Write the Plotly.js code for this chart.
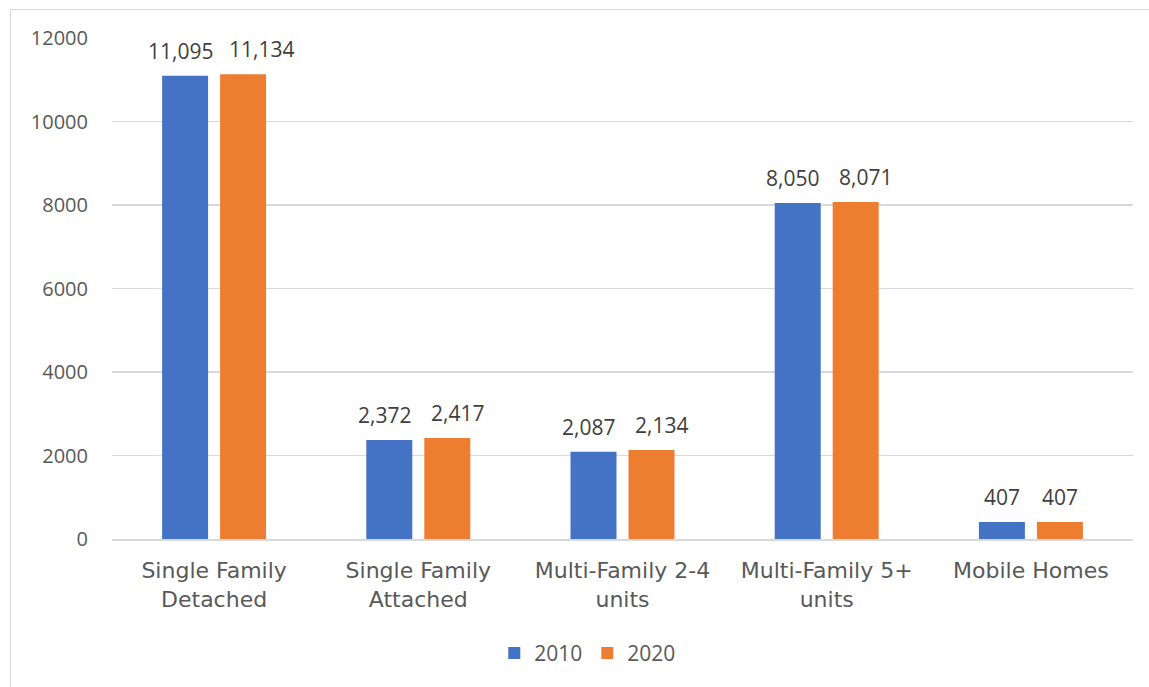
<!DOCTYPE html>
<html>
<head>
<meta charset="utf-8">
<script src="https://cdn.plot.ly/plotly-3.0.1.min.js"></script>
<style>
  html, body { margin: 0; padding: 0; background: #fff; }
  #plot { width: 1149px; height: 687px; position: absolute; left: 0; top: 0; }
  #frame { position: absolute; left: 10px; top: 9px; width: 1200px; height: 700px;
           border-left: 1px solid #d9d9d9; border-top: 1px solid #d9d9d9; pointer-events: none; }
</style>
</head>
<body>
<div id="plot"></div>
<div id="frame"></div>
<script>
// --- Data ---
const categories = ['Single Family<br>Detached', 'Single Family<br>Attached', 'Multi-Family 2-4<br>units', 'Multi-Family 5+<br>units', 'Mobile Homes'];
const years = ['2010', '2020'];
const units2010 = [11095, 2372, 2087, 8050, 407];
const units2020 = [11134, 2417, 2134, 8071, 407];
const colors = ['#4472C4', '#ED7D31'];

const fmt = v => v.toLocaleString('en-US');
const labelFont = { family: 'Open Sans, Liberation Sans, sans-serif', size: 21, color: '#404040' };
const tickFont = { family: 'Open Sans, Liberation Sans, sans-serif', size: 20, color: '#595959' };

const traces = [units2010, units2020].map((vals, i) => ({
  type: 'bar', name: years[i], x: categories, y: vals,
  marker: { color: colors[i] }, hoverinfo: 'x+y+name'
}));

// value labels above each bar; wider labels get pushed apart so they don't collide
const annotations = [];
[units2010, units2020].forEach((vals, i) => {
  vals.forEach((v, j) => {
    const s = fmt(v);
    const extra = s.length > 3 ? (i === 0 ? 5 : 10 + (s.length > 5 ? 8 : 0)) : 0;
    annotations.push({
      x: categories[j], y: v, xref: 'x', yref: 'y', text: s, showarrow: false,
      xshift: i === 0 ? -29 - extra : 29 + extra, yshift: 25, yanchor: 'middle', xanchor: 'center',
      font: labelFont
    });
  });
});

const layout = {
  width: 1149, height: 687,
  margin: { l: 112, r: 16, t: 38, b: 148 },
  paper_bgcolor: '#fff', plot_bgcolor: '#fff',
  barmode: 'group', bargap: 0.432, bargroupgap: 0.207,
  xaxis: {
    showgrid: false, showline: true, linecolor: '#d9d9d9', linewidth: 1.5,
    ticks: '', ticklabelstandoff: 11,
    tickfont: { family: 'DejaVu Sans, sans-serif', size: 22, color: '#595959' }
  },
  yaxis: {
    range: [0, 12000], tickvals: [0, 2000, 4000, 6000, 8000, 10000, 12000], tickformat: 'd',
    showgrid: true, gridcolor: '#d9d9d9', gridwidth: 1.5, zeroline: false,
    ticks: '', ticklabelstandoff: 23, tickfont: tickFont
  },
  annotations: annotations,
  showlegend: true,
  legend: {
    orientation: 'h', x: 0.466, xanchor: 'center', y: -0.228, yanchor: 'middle',
    font: { family: 'Open Sans, Liberation Sans, sans-serif', size: 21, color: '#595959' },
    itemwidth: 30, traceorder: 'normal'
  }
};

Plotly.newPlot('plot', traces, layout, { displayModeBar: false, staticPlot: true });
</script>
</body>
</html>
